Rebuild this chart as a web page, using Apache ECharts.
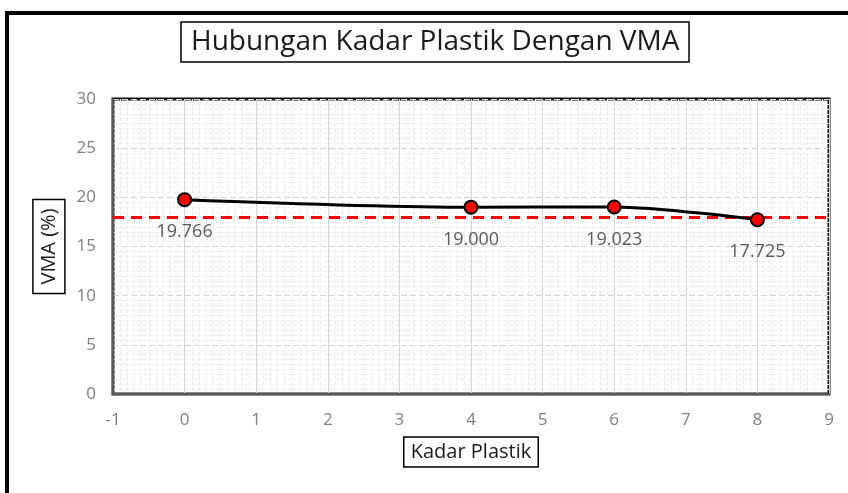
<!DOCTYPE html>
<html>
<head>
<meta charset="utf-8">
<script src="https://cdn.jsdelivr.net/npm/echarts@6/dist/echarts.min.js"></script>
<style>
html,body{margin:0;padding:0;background:#fff;}
#chart{width:848px;height:493px;}
</style>
</head>
<body>
<div id="chart"></div>
<script>
var titleText = 'Hubungan Kadar Plastik Dengan VMA';
var xName = 'Kadar Plastik';
var yName = 'VMA (%)';
var kadarPlastik = [0, 4, 6, 8];
var vmaValues = [19.766, 19.000, 19.023, 17.725];
var vmaLabels = ['19.766', '19.000', '19.023', '17.725'];
var batasVMA = 18;
var xTicks = [-1, 0, 1, 2, 3, 4, 5, 6, 7, 8, 9];
var yTicks = [0, 5, 10, 15, 20, 25, 30];

var FONT = '"Open Sans", "Noto Sans", sans-serif';
var chart = echarts.init(document.getElementById('chart'));
var seriesData = kadarPlastik.map(function (x, i) { return [x, vmaValues[i]]; });

chart.setOption({
  backgroundColor: '#fff',
  animation: false,
  title: {
    text: titleText,
    left: 181,
    top: 22,
    padding: [6, 10, 6, 10],
    borderColor: '#000',
    borderWidth: 1.5,
    textStyle: { fontFamily: FONT, fontSize: 28, fontWeight: 'normal', color: '#1a1a1a' }
  },
  graphic: [{
    type: 'rect',
    shape: { x: 7, y: 13, width: 1000, height: 700 },
    style: { fill: 'none', stroke: '#000', lineWidth: 4 },
    silent: true
  }],
  grid: {
    left: 113, right: 19, top: 99, bottom: 99,
    show: true, borderColor: '#111', borderWidth: 3
  },
  xAxis: {
    type: 'value',
    min: xTicks[0], max: xTicks[xTicks.length - 1], interval: 1,
    name: xName,
    nameLocation: 'middle',
    nameGap: 43,
    nameTextStyle: {
      fontFamily: FONT, fontSize: 20, color: '#1a1a1a',
      borderColor: '#000', borderWidth: 1.5, padding: [5, 7, 5, 7]
    },
    axisLine: { show: true, onZero: false, lineStyle: { color: '#595959', width: 2 } },
    axisTick: { show: false },
    axisLabel: { fontFamily: FONT, fontSize: 17, color: '#808080', margin: 18 },
    splitLine: { show: true, lineStyle: { color: '#d4d4d4', width: 1 } },
    minorTick: { show: false, splitNumber: 10 },
    minorSplitLine: { show: true, lineStyle: { color: '#eeeeee', width: 1, type: [4, 2] } }
  },
  yAxis: {
    type: 'value',
    min: yTicks[0], max: yTicks[yTicks.length - 1], interval: 5,
    name: yName,
    nameLocation: 'middle',
    nameRotate: 90,
    nameGap: 44,
    nameTextStyle: {
      fontFamily: FONT, fontSize: 20, color: '#1a1a1a',
      borderColor: '#000', borderWidth: 1.5, padding: [6, 9, 6, 9]
    },
    axisLine: { show: true, onZero: false, lineStyle: { color: '#595959', width: 2 } },
    axisTick: { show: false },
    axisLabel: { fontFamily: FONT, fontSize: 17, color: '#808080', margin: 17 },
    splitLine: { show: true, lineStyle: { color: '#d4d4d4', width: 1, type: [6, 3] } },
    minorTick: { show: false, splitNumber: 10 },
    minorSplitLine: { show: true, lineStyle: { color: '#eeeeee', width: 1, type: [4, 2] } }
  },
  series: [{
    type: 'line',
    data: seriesData,
    smooth: 0.3,
    symbol: 'circle',
    symbolSize: 13,
    lineStyle: { color: '#000', width: 3 },
    itemStyle: { color: '#ff0000', borderColor: '#000', borderWidth: 2 },
    label: {
      show: true, position: 'bottom', distance: 16,
      fontFamily: FONT, fontSize: 18, color: '#595959',
      formatter: function (p) { return vmaLabels[p.dataIndex]; }
    },
    markLine: {
      silent: true,
      symbol: 'none',
      label: { show: false },
      lineStyle: { color: '#ff0000', width: 3, type: [11, 7] },
      data: [{ yAxis: batasVMA }]
    },
    z: 5
  }]
});
</script>
</body>
</html>
